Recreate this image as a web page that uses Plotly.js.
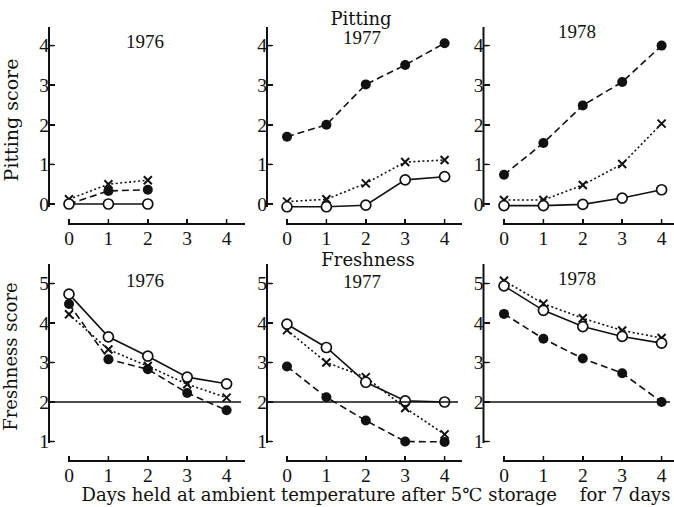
<!DOCTYPE html>
<html>
<head>
<meta charset="utf-8">
<script src="https://cdn.plot.ly/plotly-3.0.1.min.js"></script>
<style>html,body{margin:0;padding:0;background:#fff;}#chart{width:674px;height:507px;}</style>
</head>
<body>
<div id="chart"></div>
<script>
// ---- data ----
const days = [0, 1, 2, 3, 4];
const days1976Pit = [0, 1, 2];

const pit1976Open   = [0, 0, 0];
const pit1976Filled = [0.0, 0.33, 0.36];
const pit1976Cross  = [0.12, 0.5, 0.6];
const pit1977Open   = [-0.07, -0.07, -0.03, 0.61, 0.69];
const pit1977Filled = [1.70, 2.0, 3.02, 3.51, 4.06];
const pit1977Cross  = [0.06, 0.12, 0.52, 1.06, 1.11];
const pit1978Open   = [-0.04, -0.04, -0.01, 0.15, 0.36];
const pit1978Filled = [0.74, 1.54, 2.49, 3.08, 4.0];
const pit1978Cross  = [0.1, 0.1, 0.48, 1.01, 2.03];

const fr1976Open   = [4.73, 3.65, 3.16, 2.63, 2.46];
const fr1976Filled = [4.48, 3.08, 2.83, 2.23, 1.79];
const fr1976Cross  = [4.22, 3.33, 2.91, 2.45, 2.11];
const fr1977Open   = [3.97, 3.38, 2.50, 2.03, 2.0];
const fr1977Filled = [2.9, 2.12, 1.53, 1.0, 0.99];
const fr1977Cross  = [3.82, 3.0, 2.63, 1.85, 1.18];
const fr1978Open   = [4.94, 4.32, 3.91, 3.66, 3.49];
const fr1978Filled = [4.23, 3.6, 3.1, 2.73, 2.0];
const fr1978Cross  = [5.07, 4.49, 4.12, 3.81, 3.62];

const pitTicks = [0, 1, 2, 3, 4];
const frTicks = [1, 2, 3, 4, 5];
const dayTicks = [0, 1, 2, 3, 4];
const freshLimit = 2;
const yearLabels = ['1976', '1977', '1978'];
const titleTexts = [yearLabels[0], 'Pitting', yearLabels[1], yearLabels[2],
  yearLabels[0], 'Freshness', yearLabels[1], yearLabels[2],
  'Days held at ambient temperature after 5℃ storage\u00A0\u00A0\u00A0 for 7 days'];

// ---- layout geometry (pixels of the 674x507 page) ----
const W = 674, H = 507;
const px = v => v / W;
const py = v => 1 - v / H;
const unitX = 39.4;
const tick0 = [69, 287, 504];
const xStart = [62, 280, 497];
const xEnd = [245, 462, 674];
const yAxisX = [49, 267, 483.5];
const titleX = [145, 361, 362, 577, 145, 368, 362, 577, 376];
const titleY = [43, 20, 39, 33, 282, 261, 283, 280, 496];
const titleFam = ['Liberation Serif', 'DejaVu Serif', 'Liberation Serif', 'Liberation Serif',
  'Liberation Serif', 'DejaVu Serif', 'Liberation Serif', 'Liberation Serif', 'DejaVu Serif'];
const titleSize = [19, 18, 19, 19, 19, 18, 19, 19, 18];
const rows = [
  {yTop: 27, yLineBot: 207, yDomBot: 213, xLine: 224, zeroPx: 204, zeroVal: 0, unitY: 39.6, ticks: pitTicks},
  {yTop: 264, yLineBot: 443, yDomBot: 449, xLine: 461, zeroPx: 441.5, zeroVal: 1, unitY: 39.5, ticks: frTicks}
];

const panels = [
  {x: days1976Pit, o: pit1976Open, f: pit1976Filled, c: pit1976Cross, row: 0},
  {x: days, o: pit1977Open, f: pit1977Filled, c: pit1977Cross, row: 0},
  {x: days, o: pit1978Open, f: pit1978Filled, c: pit1978Cross, row: 0},
  {x: days, o: fr1976Open, f: fr1976Filled, c: fr1976Cross, row: 1},
  {x: days, o: fr1977Open, f: fr1977Filled, c: fr1977Cross, row: 1},
  {x: days, o: fr1978Open, f: fr1978Filled, c: fr1978Cross, row: 1}
];

const traces = [];
const layout = {
  width: W, height: H,
  margin: {l: 0, r: 0, t: 0, b: 0},
  plot_bgcolor: 'rgba(0,0,0,0)',
  showlegend: false, shapes: []
};
const tickFont = () => ({family: 'Liberation Serif', size: 19.5, color: '#111'});

// axis spines and tick marks, computed from the same geometry as the axes
const spineX = [], spineY = [], tickX = [], tickY = [];

panels.forEach((p, i) => {
  const n = i + 1;
  const xa = 'x' + (n === 1 ? '' : n), ya = 'y' + (n === 1 ? '' : n);
  const col = i % 3;
  const r = rows[p.row];
  const line = (dash) => ({color: '#111', width: 1.6, dash: dash});
  traces.push({x: p.x, y: p.c, xaxis: xa, yaxis: ya, mode: 'lines+markers',
    line: line('2px,2.5px'), marker: {symbol: 'x-thin', size: 8, line: {width: 2, color: '#111'}, color: '#111'}});
  traces.push({x: p.x, y: p.f, xaxis: xa, yaxis: ya, mode: 'lines+markers',
    line: line('7px,4px'), marker: {symbol: 'circle', size: 10, color: '#111'}});
  traces.push({x: p.x, y: p.o, xaxis: xa, yaxis: ya, mode: 'lines+markers',
    line: line('solid'), marker: {symbol: 'circle', size: 10, color: '#fff', line: {width: 1.7, color: '#111'}}});

  const xKey = 'xaxis' + (n === 1 ? '' : n), yKey = 'yaxis' + (n === 1 ? '' : n);
  const yDom = [py(r.yDomBot), py(r.yTop)];
  const yRng = [r.zeroVal - (r.yDomBot - r.zeroPx) / r.unitY, r.zeroVal + (r.zeroPx - r.yTop) / r.unitY];
  layout[xKey] = {
    domain: [px(xStart[col]), px(xEnd[col])],
    range: [(xStart[col] - tick0[col]) / unitX, (xEnd[col] - tick0[col]) / unitX],
    anchor: 'free', position: py(r.xLine), tickvals: dayTicks,
    showline: false, ticks: 'inside', ticklen: 5, tickwidth: 1.5, tickcolor: '#111',
    showgrid: false, zeroline: false, tickfont: tickFont()
  };
  layout[yKey] = {
    domain: yDom, range: yRng,
    anchor: 'free', position: px(yAxisX[col]), tickvals: r.ticks,
    showline: false, ticks: 'inside', ticklen: 5, tickwidth: 1.5, tickcolor: '#111',
    showgrid: false, zeroline: false, tickfont: tickFont()
  };
  if (n === 1) layout[yKey].title = {text: 'Pitting score', font: {family: 'DejaVu Serif', size: 19, color: '#111'}};
  if (n === 4) layout[yKey].title = {text: 'Freshness score', font: {family: 'DejaVu Serif', size: 18, color: '#111'}};
  if (p.row === 1) {
    const yPaper = yDom[0] + (freshLimit - yRng[0]) / (yRng[1] - yRng[0]) * (yDom[1] - yDom[0]);
    layout.shapes.push({type: 'line', xref: 'paper', yref: 'paper',
      x0: px(yAxisX[col]), x1: px(xEnd[col] - 4), y0: yPaper, y1: yPaper,
      line: {color: '#111', width: 1.3}});
  }
  // y spine (stops short of the detached x axis) and x axis line starting at day 0
  spineX.push(yAxisX[col], yAxisX[col], null, tick0[col] - 1, xEnd[col], null);
  spineY.push(r.yTop, r.yLineBot, null, r.xLine, r.xLine, null);
  dayTicks.forEach(d => {
    const xp = tick0[col] + d * unitX;
    if (xp <= W) { tickX.push(xp, xp, null); tickY.push(r.xLine, r.xLine - 5, null); }
  });
  r.ticks.forEach(v => {
    const yp = r.zeroPx - (v - r.zeroVal) * r.unitY;
    tickX.push(yAxisX[col], yAxisX[col] + 5, null); tickY.push(yp, yp, null);
  });
});

// page-wide overlay subplot in pixel units: spines, ticks, titles and caption
layout.xaxis7 = {domain: [0, 1], range: [0, W], visible: false, anchor: 'y7'};
layout.yaxis7 = {domain: [0, 1], range: [H, 0], visible: false, anchor: 'x7'};
traces.push({x: spineX, y: spineY, xaxis: 'x7', yaxis: 'y7', mode: 'lines',
  line: {color: '#111', width: 2}, connectgaps: false});
traces.push({x: tickX, y: tickY, xaxis: 'x7', yaxis: 'y7', mode: 'lines',
  line: {color: '#111', width: 1.5}, connectgaps: false});
traces.push({x: titleX, y: titleY, text: titleTexts, xaxis: 'x7', yaxis: 'y7',
  mode: 'text', textposition: 'middle center',
  textfont: {family: titleFam, size: titleSize, color: '#111'}});

Plotly.newPlot('chart', traces, layout, {staticPlot: true, displayModeBar: false});
</script>
</body>
</html>
